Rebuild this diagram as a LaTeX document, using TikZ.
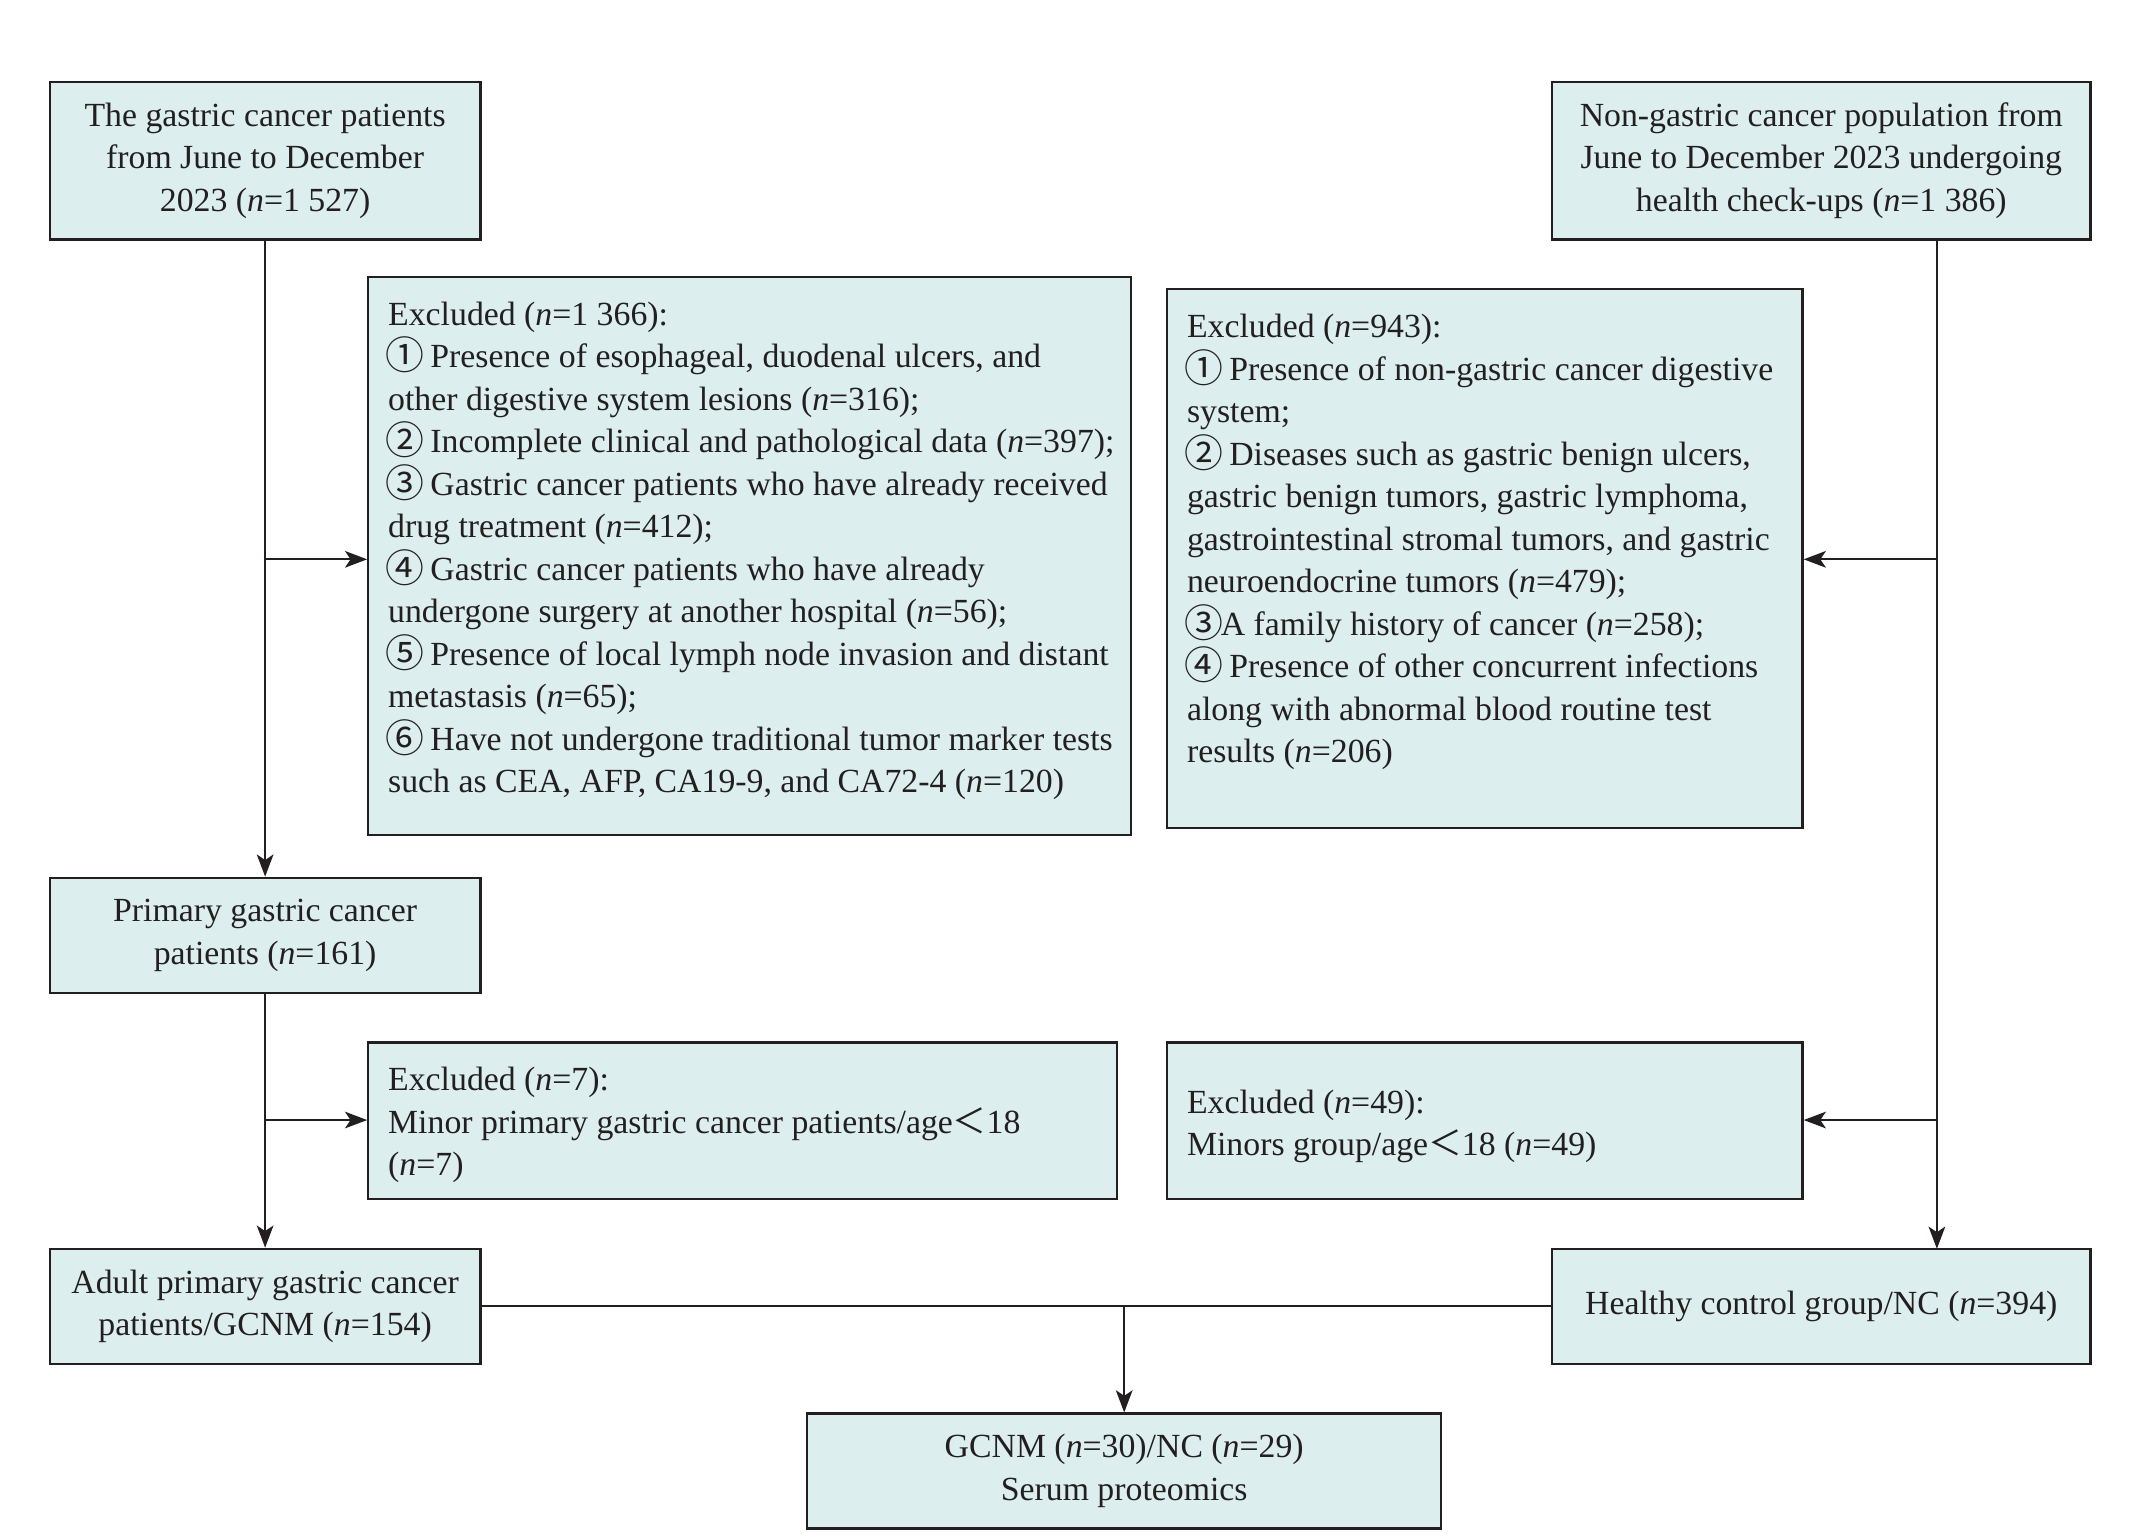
\documentclass[tikz,border=0pt]{standalone}
\usepackage{graphicx}
\usepackage{fontspec}
\setmainfont{Liberation Serif}
\newfontfamily\cjkf{Noto Sans CJK SC}
\usetikzlibrary{arrows.meta}
\definecolor{boxfill}{RGB}{220,239,238}
\definecolor{ink}{RGB}{35,31,32}
\newcommand{\cn}[1]{{\cjkf #1}}
\newcommand{\cd}[1]{\makebox[1em]{\raisebox{-0.06em}{\scalebox{1.15}{\cjkf #1}}}}
\newcommand{\nn}{\textit{n}}
\newcommand{\ptxt}[1]{\parbox[t]{320pt}{\raggedright\fontsize{12.2pt}{15.35pt}\selectfont #1}}
\begin{document}
\begin{tikzpicture}[x=0.5pt,y=-0.5pt,
  every node/.style={text=ink, font=\fontsize{12.2pt}{15.35pt}\selectfont},
  bx/.style={draw=ink, line width=0.8pt, fill=boxfill, inner sep=0pt, align=center},
  txt/.style={anchor=base west, inner sep=0pt},
  ln/.style={draw=ink, line width=0.7pt},
  arr/.style={ln, -{Stealth[length=8pt,width=6pt,inset=2pt]}}]
\useasboundingbox (0,0) rectangle (1545,1112);
% boxes
\node[bx, minimum width=155.5pt, minimum height=57pt] (A) at (191.5,116)
  {The gastric cancer patients\\from June to December\\2023 (\nn=1 527)};
\node[bx, minimum width=194.5pt, minimum height=57pt] (B) at (1315.5,116)
  {Non-gastric cancer population from\\June to December 2023 undergoing\\health check-ups (\nn=1 386)};
\node[bx, minimum width=275.5pt, minimum height=201.5pt] (E1) at (541.5,401.5) {};
\node[bx, minimum width=229.5pt, minimum height=194.5pt] (E2) at (1072.5,403.5) {};
\node[bx, minimum width=155.5pt, minimum height=41.5pt] (P) at (191.5,675.5)
  {Primary gastric cancer\\patients (\nn=161)};
\node[bx, minimum width=270.5pt, minimum height=56.5pt] (E3) at (536.5,809.5) {};
\node[bx, minimum width=229.5pt, minimum height=56.5pt] (E4) at (1072.5,809.5) {};
\node[bx, minimum width=155.5pt, minimum height=41.5pt] (AD) at (191.5,943.5)
  {Adult primary gastric cancer\\patients/GCNM (\nn=154)};
\node[bx, minimum width=194.5pt, minimum height=41.5pt] (H) at (1315.5,943.5)
  {Healthy control group/NC (\nn=394)};
\node[bx, minimum width=229pt, minimum height=41.5pt] (G) at (812,1062.5)
  {GCNM (\nn=30)/NC (\nn=29)\\Serum proteomics};
% texts of exclusion boxes
\node[txt] (T1) at (280,235) {\ptxt{Excluded (\nn=1 366):\\
\cd{①} Presence of esophageal, duodenal ulcers, and\\
other digestive system lesions (\nn=316);\\
\cd{②} Incomplete clinical and pathological data (\nn=397);\\
\cd{③} Gastric cancer patients who have already received\\
drug treatment (\nn=412);\\
\cd{④} Gastric cancer patients who have already\\
undergone surgery at another hospital (\nn=56);\\
\cd{⑤} Presence of local lymph node invasion and distant\\
metastasis (\nn=65);\\
\cd{⑥} Have not undergone traditional tumor marker tests\\
such as CEA, AFP, CA19-9, and CA72-4 (\nn=120)}};
\node[txt] (T2) at (857,244) {\ptxt{Excluded (\nn=943):\\
\cd{①} Presence of non-gastric cancer digestive\\
system;\\
\cd{②} Diseases such as gastric benign ulcers,\\
gastric benign tumors, gastric lymphoma,\\
gastrointestinal stromal tumors, and gastric\\
neuroendocrine tumors (\nn=479);\\
\cd{③}A family history of cancer (\nn=258);\\
\cd{④} Presence of other concurrent infections\\
along with abnormal blood routine test\\
results (\nn=206)}};
\node[txt] (T3) at (280,788) {\ptxt{Excluded (\nn=7):\\
Minor primary gastric cancer patients/age\cn{＜}18\\
(\nn=7)}};
\node[txt] (T4) at (857,804) {\ptxt{Excluded (\nn=49):\\
Minors group/age\cn{＜}18 (\nn=49)}};
% helper coordinates
\coordinate (L1) at (191,404);
\coordinate (L2) at (191,809);
\coordinate (R0) at (1399,173);
\coordinate (R1) at (1399,404);
\coordinate (R2) at (1399,809);
\coordinate (R3) at (1399,902);
\coordinate (M) at (812,943.5);
% connectors
\draw[arr] (A.south) -- (P.north);
\draw[arr] (L1) -- (L1 -| E1.west);
\draw[arr] (P.south) -- (AD.north);
\draw[arr] (L2) -- (L2 -| E3.west);
\draw[arr] (R0) -- (R3);
\draw[arr] (R1) -- (R1 -| E2.east);
\draw[arr] (R2) -- (R2 -| E4.east);
\draw[ln] (AD.east) -- (H.west);
\draw[arr] (M) -- (G.north);
\end{tikzpicture}
\end{document}
